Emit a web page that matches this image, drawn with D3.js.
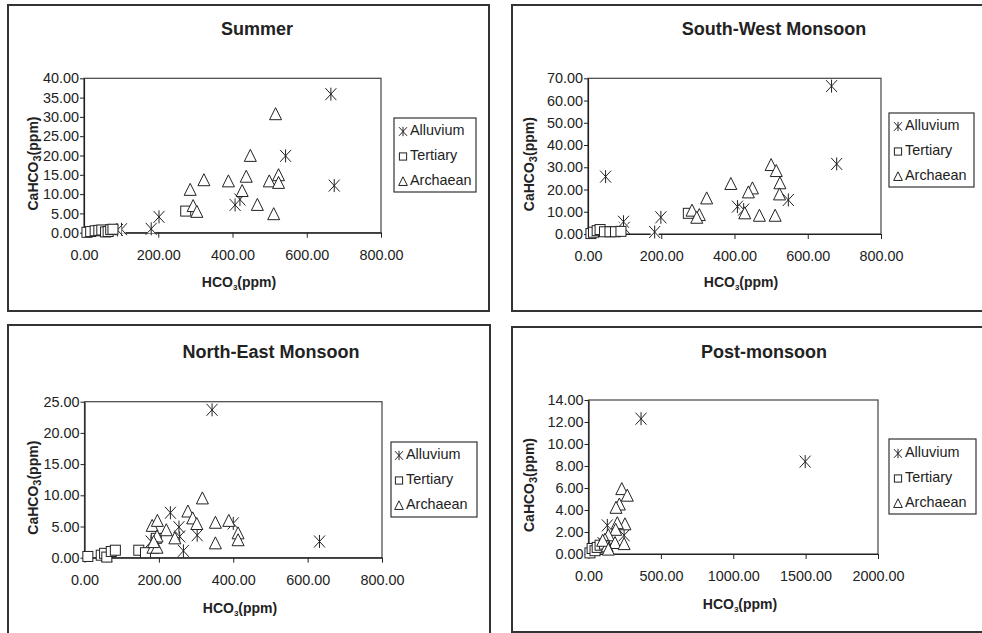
<!DOCTYPE html>
<html><head><meta charset="utf-8">
<script src="https://cdn.jsdelivr.net/npm/d3@7"></script>
<style>
html,body{margin:0;padding:0;background:#fff;}
svg{display:block;font-family:"Liberation Sans",Arial,sans-serif;}
</style></head>
<body>
<svg id="chart" width="982" height="633"></svg>
<script>
// ---------- DATA ----------
const seriesNames = ["Alluvium", "Tertiary", "Archaean"];
const panelTitles = ["Summer", "South-West Monsoon", "North-East Monsoon", "Post-monsoon"];

const xTicks800 = [0, 200, 400, 600, 800];
const xTicks2000 = [0, 500, 1000, 1500, 2000];
const yTicksSummer = [0, 5, 10, 15, 20, 25, 30, 35, 40];
const yTicksSW = [0, 10, 20, 30, 40, 50, 60, 70];
const yTicksNE = [0, 5, 10, 15, 20, 25];
const yTicksPost = [0, 2, 4, 6, 8, 10, 12, 14];

// Summer  [HCO3, CaHCO3]
const summerAlluvium = [[665,35.9],[543,19.9],[674,12.2],[407,7.2],[420,8.6],[202,4.1],[181,1.0],[101,0.9],[90,0.7]];
const summerTertiary = [[8,0.1],[18,0.3],[30,0.5],[40,0.6],[48,0.7],[58,0.2],[65,0.3],[72,0.8],[78,0.9],[274,5.6]];
const summerArchaean = [[516,30.7],[448,19.9],[323,13.6],[389,13.3],[437,14.5],[499,13.3],[524,14.9],[524,12.9],[286,11.1],[426,10.8],[294,6.9],[304,5.4],[467,7.2],[511,4.8]];

// South-West Monsoon
const swAlluvium = [[665,66.5],[679,31.5],[48,25.8],[547,15.3],[408,12.3],[425,11.0],[199,7.5],[182,0.9],[99,2.8],[97,5.5]];
const swTertiary = [[8,0.2],[15,0.8],[25,1.5],[33,2.0],[45,1.0],[60,1.0],[75,1.0],[90,1.2],[274,9.3]];
const swArchaean = [[500,31.0],[514,28.3],[524,22.8],[523,17.8],[390,22.5],[449,20.5],[438,18.7],[324,16.0],[284,10.5],[304,8.5],[297,7.3],[428,9.3],[468,8.2],[511,8.2]];

// North-East Monsoon
const neAlluvium = [[343,23.7],[632,2.6],[231,7.2],[400,5.5],[303,3.6],[266,1.1],[256,3.4],[254,4.9],[179,2.6],[60,0.3]];
const neTertiary = [[9,0.2],[45,0.4],[54,0.7],[60,0.1],[72,1.0],[83,1.2],[146,1.2],[164,0.8],[193,3.1]];
const neArchaean = [[317,9.5],[278,7.4],[291,6.3],[302,5.4],[352,5.6],[388,5.9],[413,3.9],[413,2.8],[352,2.3],[182,5.1],[196,5.9],[220,4.4],[243,3.1],[195,3.4],[184,1.6],[195,1.6],[186,2.5]];

// Post-monsoon
const postAlluvium = [[363,12.3],[1497,8.4],[130,2.6],[246,1.7],[100,1.0]];
const postTertiary = [[10,0.1],[25,0.5],[45,0.3],[60,0.6],[80,0.8],[110,0.9]];
const postArchaean = [[230,5.9],[268,5.3],[213,4.5],[190,4.2],[252,2.7],[199,2.8],[188,2.2],[137,1.7],[114,1.3],[183,1.0],[246,0.9],[129,0.7],[98,1.2],[137,0.4]];

// ---------- LAYOUT ----------
const layouts = [
  {frame:[8,5,489,311], plot:[84,78.3,381,232.7], title:[257,35], yTitleX:33, xTitle:[239,287], legend:[394,118,476,192], legMX:403, legTX:410, rows:[130,155,180]},
  {frame:[512,5,992,311], plot:[588,78.3,881,234], title:[774,35], yTitleX:529, xTitle:[741,287], legend:[889,113,974,187], legMX:898, legTX:905, rows:[125,150,175]},
  {frame:[8,325,490,645], plot:[84.5,401.7,382,557.7], title:[271,358], yTitleX:33, xTitle:[240,613], legend:[391,442,477,517], legMX:399, legTX:406, rows:[454,479,504]},
  {frame:[512,327,992,632], plot:[588.5,400,878,554], title:[764,358], yTitleX:529, xTitle:[740,609], legend:[889,439,976,514], legMX:898, legTX:905, rows:[452,477,502]}
];

const panels = [
  {series:[summerAlluvium, summerTertiary, summerArchaean], xTicks:xTicks800, yTicks:yTicksSummer},
  {series:[swAlluvium, swTertiary, swArchaean], xTicks:xTicks800, yTicks:yTicksSW},
  {series:[neAlluvium, neTertiary, neArchaean], xTicks:xTicks800, yTicks:yTicksNE},
  {series:[postAlluvium, postTertiary, postArchaean], xTicks:xTicks2000, yTicks:yTicksPost}
];

const svg = d3.select("#chart");
const fmt = d3.format(".2f");
const ink = "#222";

// k = scale factor (1 for plot markers, smaller for legend)
function drawMarker(g, type, x, y, k) {
  if (type === 0) {
    const hw = 5.5 * k, hh = 6 * k, hv = 6.5 * k;
    g.append("rect").attr("x", x - hw + 1.5).attr("y", y - hh + 1.5).attr("width", 2 * hw - 3).attr("height", 2 * hh - 3).attr("fill", "#fff");
    g.append("path").attr("d", `M${x-hw},${y-hh}L${x+hw},${y+hh}M${x-hw},${y+hh}L${x+hw},${y-hh}M${x},${y-hv}L${x},${y+hv}`)
      .attr("stroke", ink).attr("stroke-width", 1).attr("fill", "none");
  } else if (type === 1) {
    const h = 5 * k;
    g.append("rect").attr("x", x - h).attr("y", y - h).attr("width", 2 * h).attr("height", 2 * h)
      .attr("fill", "#fff").attr("stroke", ink).attr("stroke-width", 1);
  } else {
    const w = 6 * k, t = 6.5 * k, b = 5.5 * k;
    g.append("path").attr("d", `M${x},${y-t}L${x+w},${y+b}L${x-w},${y+b}Z`)
      .attr("fill", "#fff").attr("stroke", ink).attr("stroke-width", 1);
  }
}

panels.forEach((p, i) => {
  const L = layouts[i];
  const g = svg.append("g");
  // outer frame
  g.append("rect").attr("x", L.frame[0]).attr("y", L.frame[1])
    .attr("width", L.frame[2] - L.frame[0]).attr("height", L.frame[3] - L.frame[1])
    .attr("fill", "none").attr("stroke", "#333").attr("stroke-width", 2);

  const x = d3.scaleLinear().domain([p.xTicks[0], p.xTicks[p.xTicks.length - 1]]).range([L.plot[0], L.plot[2]]);
  const y = d3.scaleLinear().domain([p.yTicks[0], p.yTicks[p.yTicks.length - 1]]).range([L.plot[3], L.plot[1]]);

  // plot area border
  g.append("rect").attr("x", L.plot[0]).attr("y", L.plot[1])
    .attr("width", L.plot[2] - L.plot[0]).attr("height", L.plot[3] - L.plot[1])
    .attr("fill", "none").attr("stroke", "#444").attr("stroke-width", 1.2);

  // axes
  const ax = g.append("g").attr("transform", `translate(0,${L.plot[3]})`)
    .call(d3.axisBottom(x).tickValues(p.xTicks).tickFormat(fmt).tickSize(5).tickPadding(12).tickSizeOuter(0));
  const ay = g.append("g").attr("transform", `translate(${L.plot[0]},0)`)
    .call(d3.axisLeft(y).tickValues(p.yTicks).tickFormat(fmt).tickSize(4).tickPadding(1).tickSizeOuter(0));
  [ax, ay].forEach(a => {
    a.select(".domain").attr("stroke", ink).attr("stroke-width", 1.2);
    a.selectAll(".tick line").attr("stroke", ink);
    a.selectAll("text").attr("fill", ink).style("font-size", "14.4px").style("font-family", "'Liberation Sans',Arial,sans-serif");
  });

  // markers
  const mg = g.append("g");
  p.series.forEach((data, si) => {
    data.forEach(d => drawMarker(mg, si, x(d[0]), y(d[1]), 1));
  });

  // title
  g.append("text").attr("x", L.title[0]).attr("y", L.title[1]).attr("text-anchor", "middle")
    .style("font-size", "18px").style("font-weight", "bold").attr("fill", ink).text(panelTitles[i]);

  // x title
  const xt = g.append("text").attr("x", L.xTitle[0]).attr("y", L.xTitle[1]).attr("text-anchor", "middle")
    .style("font-size", "14px").style("font-weight", "bold").attr("fill", ink);
  xt.append("tspan").text("HCO");
  xt.append("tspan").attr("dy", 3).style("font-size", "8px").text("3");
  xt.append("tspan").attr("dy", -3).text("(ppm)");

  // y title
  const cy = (L.plot[1] + L.plot[3]) / 2 + 8;
  const yt = g.append("text").attr("transform", `translate(${L.yTitleX + 5},${cy}) rotate(-90)`).attr("text-anchor", "middle")
    .style("font-size", "14px").style("font-weight", "bold").attr("fill", ink);
  yt.append("tspan").text("CaHCO");
  yt.append("tspan").attr("dy", 3).style("font-size", "11px").text("3");
  yt.append("tspan").attr("dy", -3).text("(ppm)");

  // legend
  g.append("rect").attr("x", L.legend[0]).attr("y", L.legend[1])
    .attr("width", L.legend[2] - L.legend[0]).attr("height", L.legend[3] - L.legend[1])
    .attr("fill", "#fff").attr("stroke", "#333").attr("stroke-width", 1.2);
  seriesNames.forEach((name, si) => {
    drawMarker(g, si, L.legMX, L.rows[si] + 1.5, 0.72);
    g.append("text").attr("x", L.legTX).attr("y", L.rows[si] + 5)
      .style("font-size", "14.4px").attr("fill", ink).text(name);
  });
});
</script>
</body></html>
